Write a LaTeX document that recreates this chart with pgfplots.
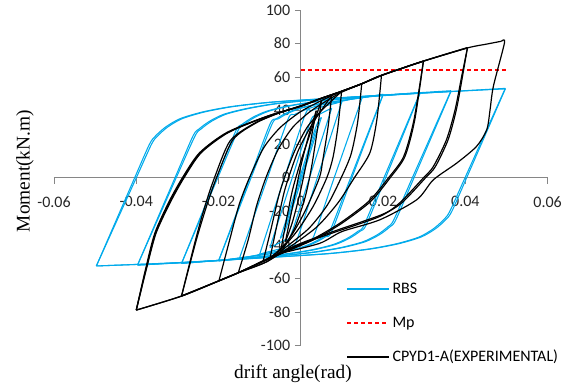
\documentclass[border=0pt]{standalone}
\usepackage{pgfplots}
\pgfplotsset{compat=1.18}
\usepackage{fontspec}
\setmainfont{Carlito}
\newfontfamily\serifaxis{Liberation Serif}
\definecolor{rbs}{RGB}{0,170,235}
\definecolor{mpred}{RGB}{255,0,0}
\definecolor{axgray}{RGB}{134,134,134}
\pgfplotsset{
 bl/.style={draw=rbs, line width=0.8pt, forget plot, smooth, tension=0.45},
 bk/.style={draw=black, line width=0.9pt, forget plot, smooth, tension=0.45},
}
\begin{document}
\begin{tikzpicture}
\begin{axis}[
 set layers,
 scale only axis, width=370.3pt, height=251.8pt,
 xmin=-0.06, xmax=0.06, ymin=-100, ymax=100,
 axis lines=middle,
 axis line style={axgray, line width=0.6pt, -},
 xtick={-0.06,-0.04,-0.02,0,0.02,0.04,0.06},
 ytick={-100,-80,-60,-40,-20,0,20,40,60,80,100},
 tick style={axgray, line width=0.6pt},
 major tick length=4.5pt,
 tick align=outside,
 hide obscured x ticks=false, hide obscured y ticks=false,
 scaled x ticks=false,
 xticklabel={\pgfmathprintnumber[fixed,precision=2,assume math mode=true]{\tick}},
 yticklabel={\pgfmathprintnumber[assume math mode=true]{\tick}},
 tick label style={font=\fontsize{12}{14}\selectfont, text=black!85},
 xticklabel style={yshift=-6pt},
 xlabel={drift angle(rad)},
 ylabel={Moment(kN.m)},
 xlabel style={font=\serifaxis\fontsize{14.5}{16}\selectfont, at={(axis description cs:0.484,-0.0842)}, anchor=center},
 ylabel style={font=\serifaxis\fontsize{14.5}{16}\selectfont, at={(axis description cs:-0.0587,0.52)}, anchor=center, rotate=90},
 legend image code/.code={\draw[#1] (0pt,0pt) -- (31pt,0pt);},
 legend style={at={(axis cs:0.0100,-59.5)}, anchor=north west, draw=none, fill=none, font=\fontsize{12}{14}\selectfont, row sep=11.8pt},
 legend cell align=left,
]
\coordinate (ll) at (rel axis cs:0,0);
\coordinate (ur) at (rel axis cs:1,1);
% ---------------- RBS (blue) ----------------
\addplot[bl] coordinates {(-0.0497,-52.5) (-0.0404,0) (-0.0368,20) (-0.0353,25.0) (-0.0328,30.4) (-0.0293,35.3) (-0.0238,39.3) (-0.0168,42.5) (-0.0068,45.2) (0.01,47.8) (0.03,50.6) (0.0497,53)};
\addplot[bl] coordinates {(0.0497,53) (0.0403,0) (0.0367,-20) (0.0352,-25.0) (0.0327,-30.4) (0.0292,-35.3) (0.0237,-39.3) (0.0167,-42.5) (0.0067,-45.2) (-0.01,-47.8) (-0.03,-50.6) (-0.0497,-52.5)};
\addplot[bl] coordinates {(-0.0497,-52.5) (-0.0400,0) (-0.0363,20) (-0.0348,25.0) (-0.0323,30.4) (-0.0288,35.3) (-0.0233,39.3) (-0.0163,42.5) (-0.0063,45.2) (0.0105,47.8) (0.0305,50.6) (0.0497,53.3)};
\addplot[bl] coordinates {(0.0497,53.3) (0.0399,0) (0.0362,-20) (0.0347,-25) (0.0322,-30.4) (0.0287,-35.3) (0.0232,-39.3) (0.0162,-42.5) (0.0062,-45.2) (-0.0105,-47.8) (-0.0305,-50.6) (-0.0497,-52.5)};
\addplot[bl] coordinates {(-0.0397,-52) (-0.0306,0) (-0.0262,25) (-0.0247,29.2) (-0.0222,33.7) (-0.0187,37.9) (-0.0132,41.3) (-0.0062,44.2) (0.0038,46.6) (0.02,49.2) (0.0365,51.5)};
\addplot[bl] coordinates {(0.0365,51.5) (0.0275,0) (0.0231,-25) (0.0216,-29.3) (0.0191,-33.9) (0.0156,-38.1) (0.0101,-41.6) (0.0031,-44.4) (-0.0069,-46.9) (-0.02,-49.2) (-0.0397,-52)};
\addplot[bl] coordinates {(-0.0397,-52) (-0.0303,0) (-0.0257,25) (-0.0242,29.2) (-0.0217,33.7) (-0.0182,37.9) (-0.0127,41.3) (-0.0057,44.2) (0.0043,46.6) (0.0205,49.4) (0.0365,51.9)};
\addplot[bl] coordinates {(0.0365,51.9) (0.0271,0) (0.0226,-25) (0.0211,-29.3) (0.0186,-33.9) (0.0151,-38.1) (0.0096,-41.6) (0.0026,-44.4) (-0.0074,-46.9) (-0.0205,-49.4) (-0.0397,-52)};
\addplot[bl] coordinates {(-0.029,-51) (-0.0205,0) (-0.0158,28) (-0.0143,31.8) (-0.0118,35.9) (-0.0083,39.7) (-0.0028,43.0) (0.0042,45.6) (0.0142,47.9) (0.029,50.5)};
\addplot[bl] coordinates {(0.029,50.5) (0.0206,0) (0.0159,-28) (0.0144,-31.8) (0.0119,-35.9) (0.0084,-39.7) (0.0029,-43.0) (-0.0041,-45.6) (-0.0141,-47.9) (-0.029,-51)};
\addplot[bl] coordinates {(-0.029,-51) (-0.0202,0) (-0.0153,28) (-0.0138,31.8) (-0.0113,35.9) (-0.0078,39.7) (-0.0023,43.0) (0.0047,45.6) (0.0147,48.1) (0.029,50.8)};
\addplot[bl] coordinates {(0.029,50.8) (0.0202,0) (0.0154,-28) (0.0139,-31.8) (0.0114,-35.9) (0.0079,-39.7) (0.0024,-43.0) (-0.0046,-45.6) (-0.0146,-48.1) (-0.029,-51)};
\addplot[bl] coordinates {(-0.02,-49.5) (-0.0124,0) (-0.0075,32) (-0.006,35.1) (-0.0035,38.6) (0,41.8) (0.0055,44.6) (0.0125,46.9) (0.02,49.5)};
\addplot[bl] coordinates {(0.02,49.5) (0.0124,0) (0.0075,-32) (0.006,-35.1) (0.0035,-38.6) (0,-41.8) (-0.0055,-44.6) (-0.0125,-46.9) (-0.02,-49.5)};
\addplot[bl] coordinates {(-0.02,-49.5) (-0.0121,0) (-0.007,32) (-0.0055,35.1) (-0.003,38.6) (0.0005,41.8) (0.006,44.6) (0.013,47.1) (0.02,49.8)};
\addplot[bl] coordinates {(0.02,49.8) (0.0121,0) (0.007,-32) (0.0055,-35.1) (0.003,-38.6) (-0.0005,-41.8) (-0.006,-44.6) (-0.013,-47.1) (-0.02,-49.5)};
\addplot[bl] coordinates {(-0.015,-48.5) (-0.0081,0) (-0.0031,35) (-0.0016,37.6) (0.0009,40.4) (0.0044,43.1) (0.0099,45.6) (0.015,48.5)};
\addplot[bl] coordinates {(0.015,48.5) (0.0081,0) (0.0031,-35) (0.0016,-37.6) (-0.0009,-40.4) (-0.0044,-43.1) (-0.0099,-45.6) (-0.015,-48.5)};
\addplot[bl] coordinates {(-0.01,-45.5) (-0.0040,0) (0.0011,38) (0.0026,40) (0.0051,42.3) (0.0086,44.5) (0.01,45.5)};
\addplot[bl] coordinates {(0.01,45.5) (0.0040,0) (-0.0011,-38) (-0.0026,-40) (-0.0051,-42.3) (-0.0086,-44.5) (-0.01,-45.5)};
\addplot[bl] coordinates {(-0.0075,-41.5) (-0.0021,0) (0.0024,34) (0.0039,37) (0.0064,40.2) (0.0075,41.5)};
\addplot[bl] coordinates {(0.0075,41.5) (0.0021,0) (-0.0024,-34) (-0.0039,-37) (-0.0064,-40.2) (-0.0075,-41.5)};
\addplot[bl] coordinates {(-0.005,-36) (-0.0003,0) (0.0036,30) (0.005,36)};
\addplot[bl] coordinates {(0.005,36) (0.0003,0) (-0.0036,-30) (-0.005,-36)};
\addplot[bl] coordinates {(-0.00375,-28.9) (0.00375,28.9)};
% ---------------- Mp ----------------
\addplot[draw=mpred, line width=1.5pt, dash pattern=on 3pt off 2.2pt, forget plot] coordinates {(0,64.5) (0.0505,64.5)};
% ---------------- Experimental (black) ----------------
\addplot[bk] coordinates {(-0.00375,-38) (-0.002,-17) (0,7) (0.002,26) (0.00375,40)};
\addplot[bk] coordinates {(0.00375,40) (0.002,17) (0,-7) (-0.002,-26) (-0.00375,-38)};
\addplot[bk] coordinates {(-0.005,-45) (-0.0035,-25) (-0.002,-7) (0,10) (0.0025,28) (0.005,46)};
\addplot[bk] coordinates {(0.005,46) (0.0038,25) (0.0025,5) (0.001,-12) (-0.0015,-30) (-0.005,-45)};
\addplot[bk] coordinates {(-0.0075,-48) (-0.0058,-28) (-0.0042,-10) (-0.003,0) (-0.0005,17) (0.003,33) (0.0075,49)};
\addplot[bk] coordinates {(0.0075,49) (0.0066,30) (0.0053,10) (0.0045,0) (0.001,-20) (-0.003,-37) (-0.0075,-48)};
\addplot[bk] coordinates {(-0.0092,-50) (-0.0072,-30) (-0.0055,-12) (-0.004,0) (-0.0015,16) (0.0015,30) (0.005,40) (0.0099,51.5)};
\addplot[bk] coordinates {(0.0099,51.5) (0.009,30) (0.0078,12) (0.0063,0) (0.003,-17) (-0.001,-32) (-0.005,-43) (-0.0092,-50)};
\addplot[bk] coordinates {(-0.0152,-56.5) (-0.0128,-37) (-0.0108,-17) (-0.0085,0) (-0.0055,17) (-0.002,30) (0.002,39) (0.006,45.5) (0.0099,51) (0.0148,56)};
\addplot[bk] coordinates {(0.0148,56) (0.0138,33) (0.0122,14) (0.0098,0) (0.0065,-16) (0.002,-30) (-0.004,-42) (-0.0083,-50) (-0.0152,-56.5)};
\addplot[bk] coordinates {(-0.0199,-61.3) (-0.0173,-37) (-0.015,-16) (-0.0125,0) (-0.009,18) (-0.005,30) (0,39.5) (0.005,46) (0.0099,51.5) (0.0148,56) (0.0196,61)};
\addplot[bk] coordinates {(0.0196,61) (0.0185,35) (0.0168,15) (0.013,0) (0.009,-15) (0.004,-29) (-0.002,-40) (-0.0083,-50) (-0.0152,-56.5) (-0.0199,-61.3)};
\addplot[bk] coordinates {(-0.029,-70.4) (-0.0254,-37) (-0.0228,-16) (-0.0205,0) (-0.0165,22.7) (-0.0108,32.8) (-0.0051,38.8) (0,43) (0.005,47.5) (0.0099,51.5) (0.0148,56) (0.0196,61) (0.0298,69.5)};
\addplot[bk] coordinates {(0.0298,69.5) (0.0277,34.6) (0.0253,12.7) (0.0217,0) (0.017,-14) (0.01,-27) (0.003,-37) (-0.0075,-48) (-0.0152,-56.5) (-0.0199,-61.3) (-0.029,-70.4)};
\addplot[bk] coordinates {(-0.029,-70.4) (-0.0256,-37) (-0.0232,-16) (-0.021,0) (-0.0172,22) (-0.0113,32.5) (-0.0055,38.5) (0,42.8) (0.005,47.4) (0.0099,51.6) (0.0148,56.1) (0.0196,61.1) (0.0298,69.6)};
\addplot[bk] coordinates {(0.0298,69.6) (0.0275,34.6) (0.025,12.7) (0.0213,0) (0.0165,-14) (0.0095,-27) (0.0025,-37) (-0.0075,-48) (-0.0152,-56.6) (-0.0199,-61.4) (-0.029,-70.4)};
\addplot[bk] coordinates {(-0.040,-78.8) (-0.0378,-55) (-0.0355,-33) (-0.032,-14) (-0.0286,0.8) (-0.0246,15) (-0.018,27) (-0.0083,36.6) (0,42.6) (0.005,47.3) (0.0099,51.5) (0.0148,56) (0.0196,61) (0.0298,69.5) (0.0405,77.4)};
\addplot[bk] coordinates {(0.0405,77.4) (0.0391,60.5) (0.0375,40.6) (0.0354,22.7) (0.0322,6.7) (0.0298,0) (0.024,-15) (0.0192,-23) (0.0087,-32) (0,-39.5) (-0.0075,-47.5) (-0.0152,-56.5) (-0.0199,-61.3) (-0.029,-70.4) (-0.040,-78.8)};
\addplot[bk] coordinates {(-0.040,-78.8) (-0.0376,-55) (-0.0352,-33) (-0.0316,-14) (-0.0282,0.8) (-0.0242,15) (-0.0176,27) (-0.0080,36.8) (0,42.8) (0.005,47.4) (0.0099,51.6) (0.0148,56.1) (0.0196,61.1) (0.0298,69.6) (0.0405,77.6)};
\addplot[bk] coordinates {(0.0405,77.6) (0.0393,60.5) (0.0378,40.6) (0.0358,22.7) (0.0327,6.7) (0.0303,0) (0.0245,-15) (0.0196,-22) (0.009,-31) (0,-39) (-0.0075,-47.5) (-0.0152,-56.6) (-0.0199,-61.4) (-0.029,-70.5) (-0.040,-78.8)};
\addplot[bk] coordinates {(-0.040,-78.8) (-0.0377,-55) (-0.0353,-33) (-0.0318,-14) (-0.0284,0.8) (-0.0244,15) (-0.0178,27) (-0.0081,36.6) (0,42.6) (0.005,47.3) (0.0099,51.5) (0.0148,56) (0.0196,61) (0.0298,69.5) (0.0405,77.4) (0.045,79.6) (0.0488,81.4)};
\addplot[bk] coordinates {(0.0488,81.4) (0.0495,80.4) (0.0468,54.5) (0.046,40.6) (0.0452,28.7) (0.0427,18.7) (0.0379,8.8) (0.0322,-1.2) (0.0282,-13) (0.0192,-25) (0.01,-32) (0.0046,-39) (-0.005,-45)};
% ---------------- legend ----------------
\addlegendimage{legend image code/.code={\draw[draw=rbs, line width=1.7pt] (0pt,0.3pt) -- (31pt,0.3pt);}}
\addlegendentry{RBS}
\addlegendimage{draw=mpred, line width=1.2pt, dash pattern=on 3pt off 2.2pt}
\addlegendentry{Mp}
\addlegendimage{draw=black, line width=1pt}
\addlegendentry{CPYD1-A(EXPERIMENTAL)}
\end{axis}
\pgfresetboundingbox
\path[use as bounding box] ([shift={(-40.5pt,-31pt)}]ll) rectangle ([shift={(19pt,7.5pt)}]ur);
\end{tikzpicture}
\end{document}
